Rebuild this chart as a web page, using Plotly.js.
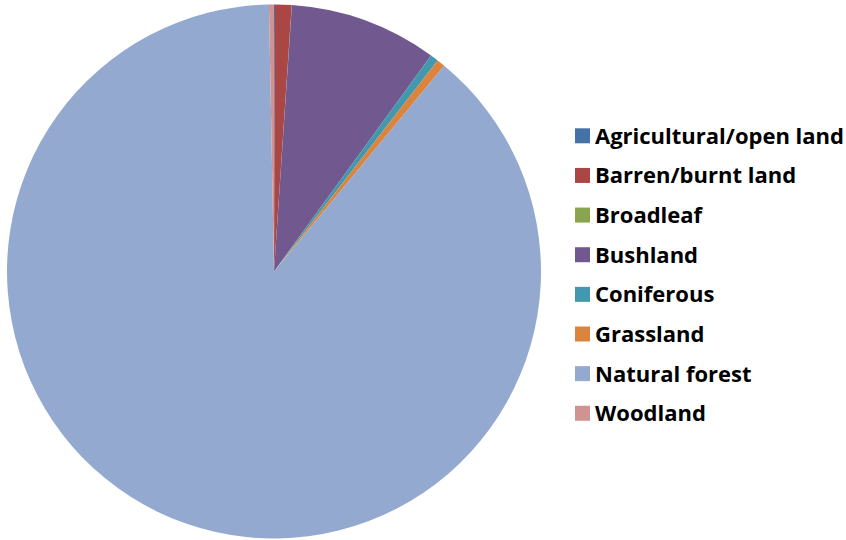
<!DOCTYPE html>
<html><head><meta charset="utf-8">
<script src="https://cdn.plot.ly/plotly-3.0.1.min.js"></script>
<style>html,body{margin:0;padding:0;background:#fff;}#chart{width:846px;height:540px;}</style>
</head><body><div id="chart"></div>
<script>
const labels = ["Agricultural/open land","Barren/burnt land","Broadleaf","Bushland","Coniferous","Grassland","Natural forest","Woodland"];
const values = [0.06, 1.0, 0.01, 8.94, 0.49, 0.5, 88.7, 0.3];
const colors = ["#4572A7","#AA4643","#89A54E","#71588F","#4198AF","#DB843D","#93A9CF","#D19392"];

const W = 846, H = 540;
const shapes = [], annotations = [];
const legX = 575, legY0 = 135.8, legGap = 39.64, sq = 15;
labels.forEach((l, i) => {
  const cy = legY0 + i * legGap;
  shapes.push({type:"rect", xref:"paper", yref:"paper",
    x0: legX / W, x1: (legX + sq) / W,
    y0: 1 - (cy + sq/2) / H, y1: 1 - (cy - sq/2) / H,
    fillcolor: colors[i], line:{width:0}});
  annotations.push({xref:"paper", yref:"paper", x:(legX + sq + 3) / W, y: 1 - (cy - 1) / H,
    xanchor:"left", yanchor:"middle", showarrow:false, text:"<b>"+l+"</b>",
    font:{family:"Open Sans, sans-serif", size:22, color:"#000"}});
});

const data = [{
  type:"pie", labels: labels, values: values, sort:false, direction:"clockwise", rotation:0,
  marker:{colors: colors, line:{width:0}}, textinfo:"none", hoverinfo:"label+percent",
  domain:{x:[7/W, 541/W], y:[1-538.5/H, 1-4.5/H]}, showlegend:false
}];
const layout = {width:W, height:H, margin:{l:0,r:0,t:0,b:0}, paper_bgcolor:"#fff",
  showlegend:false, shapes: shapes, annotations: annotations};
Plotly.newPlot("chart", data, layout, {displayModeBar:false, staticPlot:true});
</script></body></html>
